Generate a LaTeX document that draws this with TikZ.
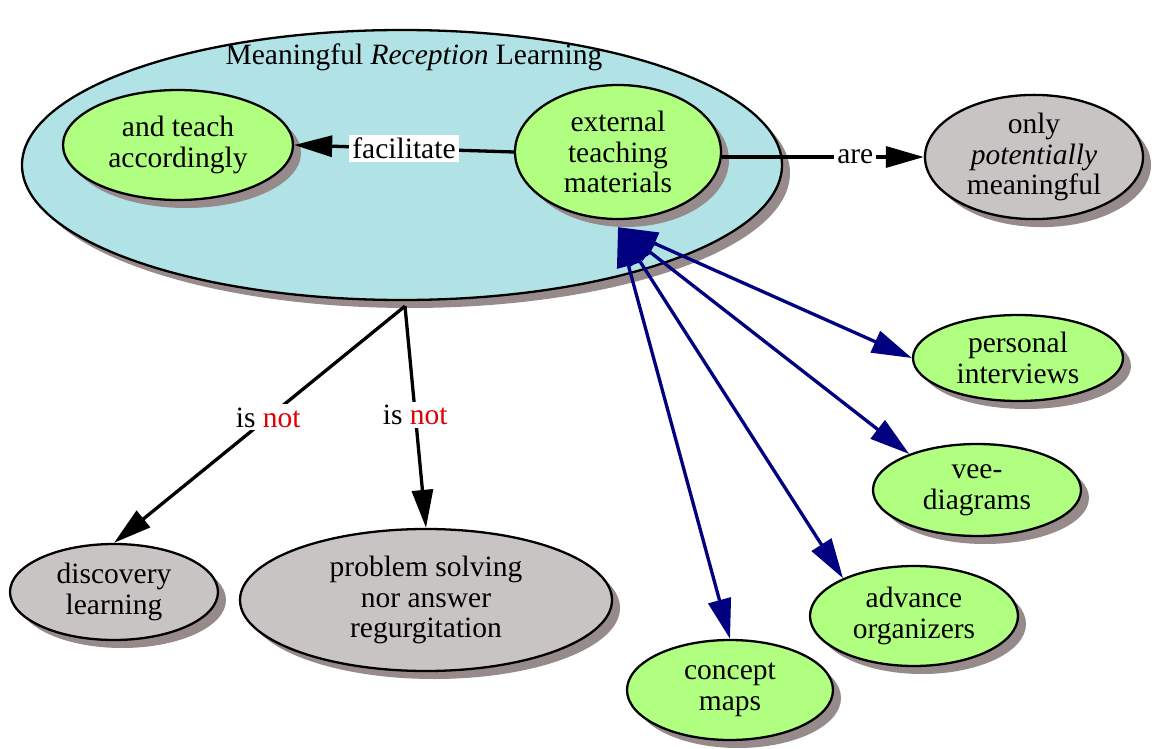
\documentclass[tikz,border=0pt]{standalone}
\usepackage{fontspec}
\setmainfont{Liberation Serif}
\usetikzlibrary{shapes.geometric,shadows,calc,arrows.meta}
\definecolor{clusterblue}{HTML}{B0E2E6}
\definecolor{leafgreen}{HTML}{B0FF80}
\definecolor{outgray}{HTML}{C8C4C4}
\definecolor{shadowgray}{HTML}{968A8A}
\definecolor{toolblue}{HTML}{000080}
\definecolor{notred}{HTML}{E00000}
\tikzstyle{bubble} = [ellipse, draw=black, line width=2.3pt, inner sep=0pt, align=center, drop shadow={shadow xshift=8pt, shadow yshift=-8pt, fill=shadowgray, opacity=1}]
\tikzstyle{leaf} = [bubble, fill=leafgreen]
\tikzstyle{outcome} = [bubble, fill=outgray]
\tikzstyle{link} = [line width=3.3pt, >={Triangle[length=38pt,width=21pt]}, ->]
\tikzstyle{toollink} = [line width=3.3pt, draw=toolblue, >={Triangle[length=40pt,width=23pt]}, <->]
\tikzstyle{tag} = [fill=white, inner sep=3pt]

\begin{document}
\begin{tikzpicture}[x=1pt, y=-1pt, font=\rmfamily\fontsize{29.5pt}{30.5pt}\selectfont]
	\useasboundingbox (0,0) rectangle (1152,749);

	%% the cluster
	\node[bubble, fill=clusterblue, minimum width=760pt, minimum height=270pt] (mrl) at (402,165) {};
	\node (mrltitle) at (414,57) {Meaningful \textit{Reception} Learning};

	\node[leaf, minimum width=230pt, minimum height=110pt] (teach) at (178,145) {and teach\\accordingly};
	\node[leaf, minimum width=206pt, minimum height=134pt] (ext) at (618,152) {external\\teaching\\materials};

	%% outside the cluster
	\node[outcome, minimum width=218pt, minimum height=124pt] (only) at (1034,157) {only\\\textit{potentially}\\meaningful};
	\node[outcome, minimum width=208pt, minimum height=96pt] (disc) at (114,592) {discovery\\learning};
	\node[outcome, minimum width=372pt, minimum height=142pt] (prob) at (426,600) {problem solving\\nor answer\\regurgitation};

	% tools
	\node[leaf, minimum width=210pt, minimum height=86pt] (pers) at (1018,358) {personal\\interviews};
	\node[leaf, minimum width=208pt, minimum height=92pt] (vee) at (977,490) {vee-\\diagrams};
	\node[leaf, minimum width=208pt, minimum height=100pt] (adv) at (914,616) {advance\\organizers};
	\node[leaf, minimum width=206pt, minimum height=100pt] (cmap) at (730,690) {concept\\maps};

	%% feet of the edges
	\coordinate (mrlfoot) at ([xshift=3pt,yshift=-5pt]mrl.south);
	\coordinate (extfoot) at ([yshift=-7pt]ext.south);

	%% edges
	\draw[link] (ext.west) -- node[tag] (lblfac) {facilitate} (teach.east);
	\draw[link] (ext.east |- only.west) -- node[tag, pos=0.66] (lblare) {are} (only.west);
	\draw[link] (mrlfoot) -- node[tag, pos=0.47] (lblnot1) {is \textcolor{notred}{not}} (disc.north);
	\draw[link] (mrlfoot) -- node[tag, pos=0.49] (lblnot2) {is \textcolor{notred}{not}} (prob.north);

	\draw[toollink] (extfoot) -- (pers.west);
	\draw[toollink] (extfoot) -- (vee.152);
	\draw[toollink] (extfoot) -- (adv.152);
	\draw[toollink] (extfoot) -- (cmap.north);
\end{tikzpicture}
\end{document}
